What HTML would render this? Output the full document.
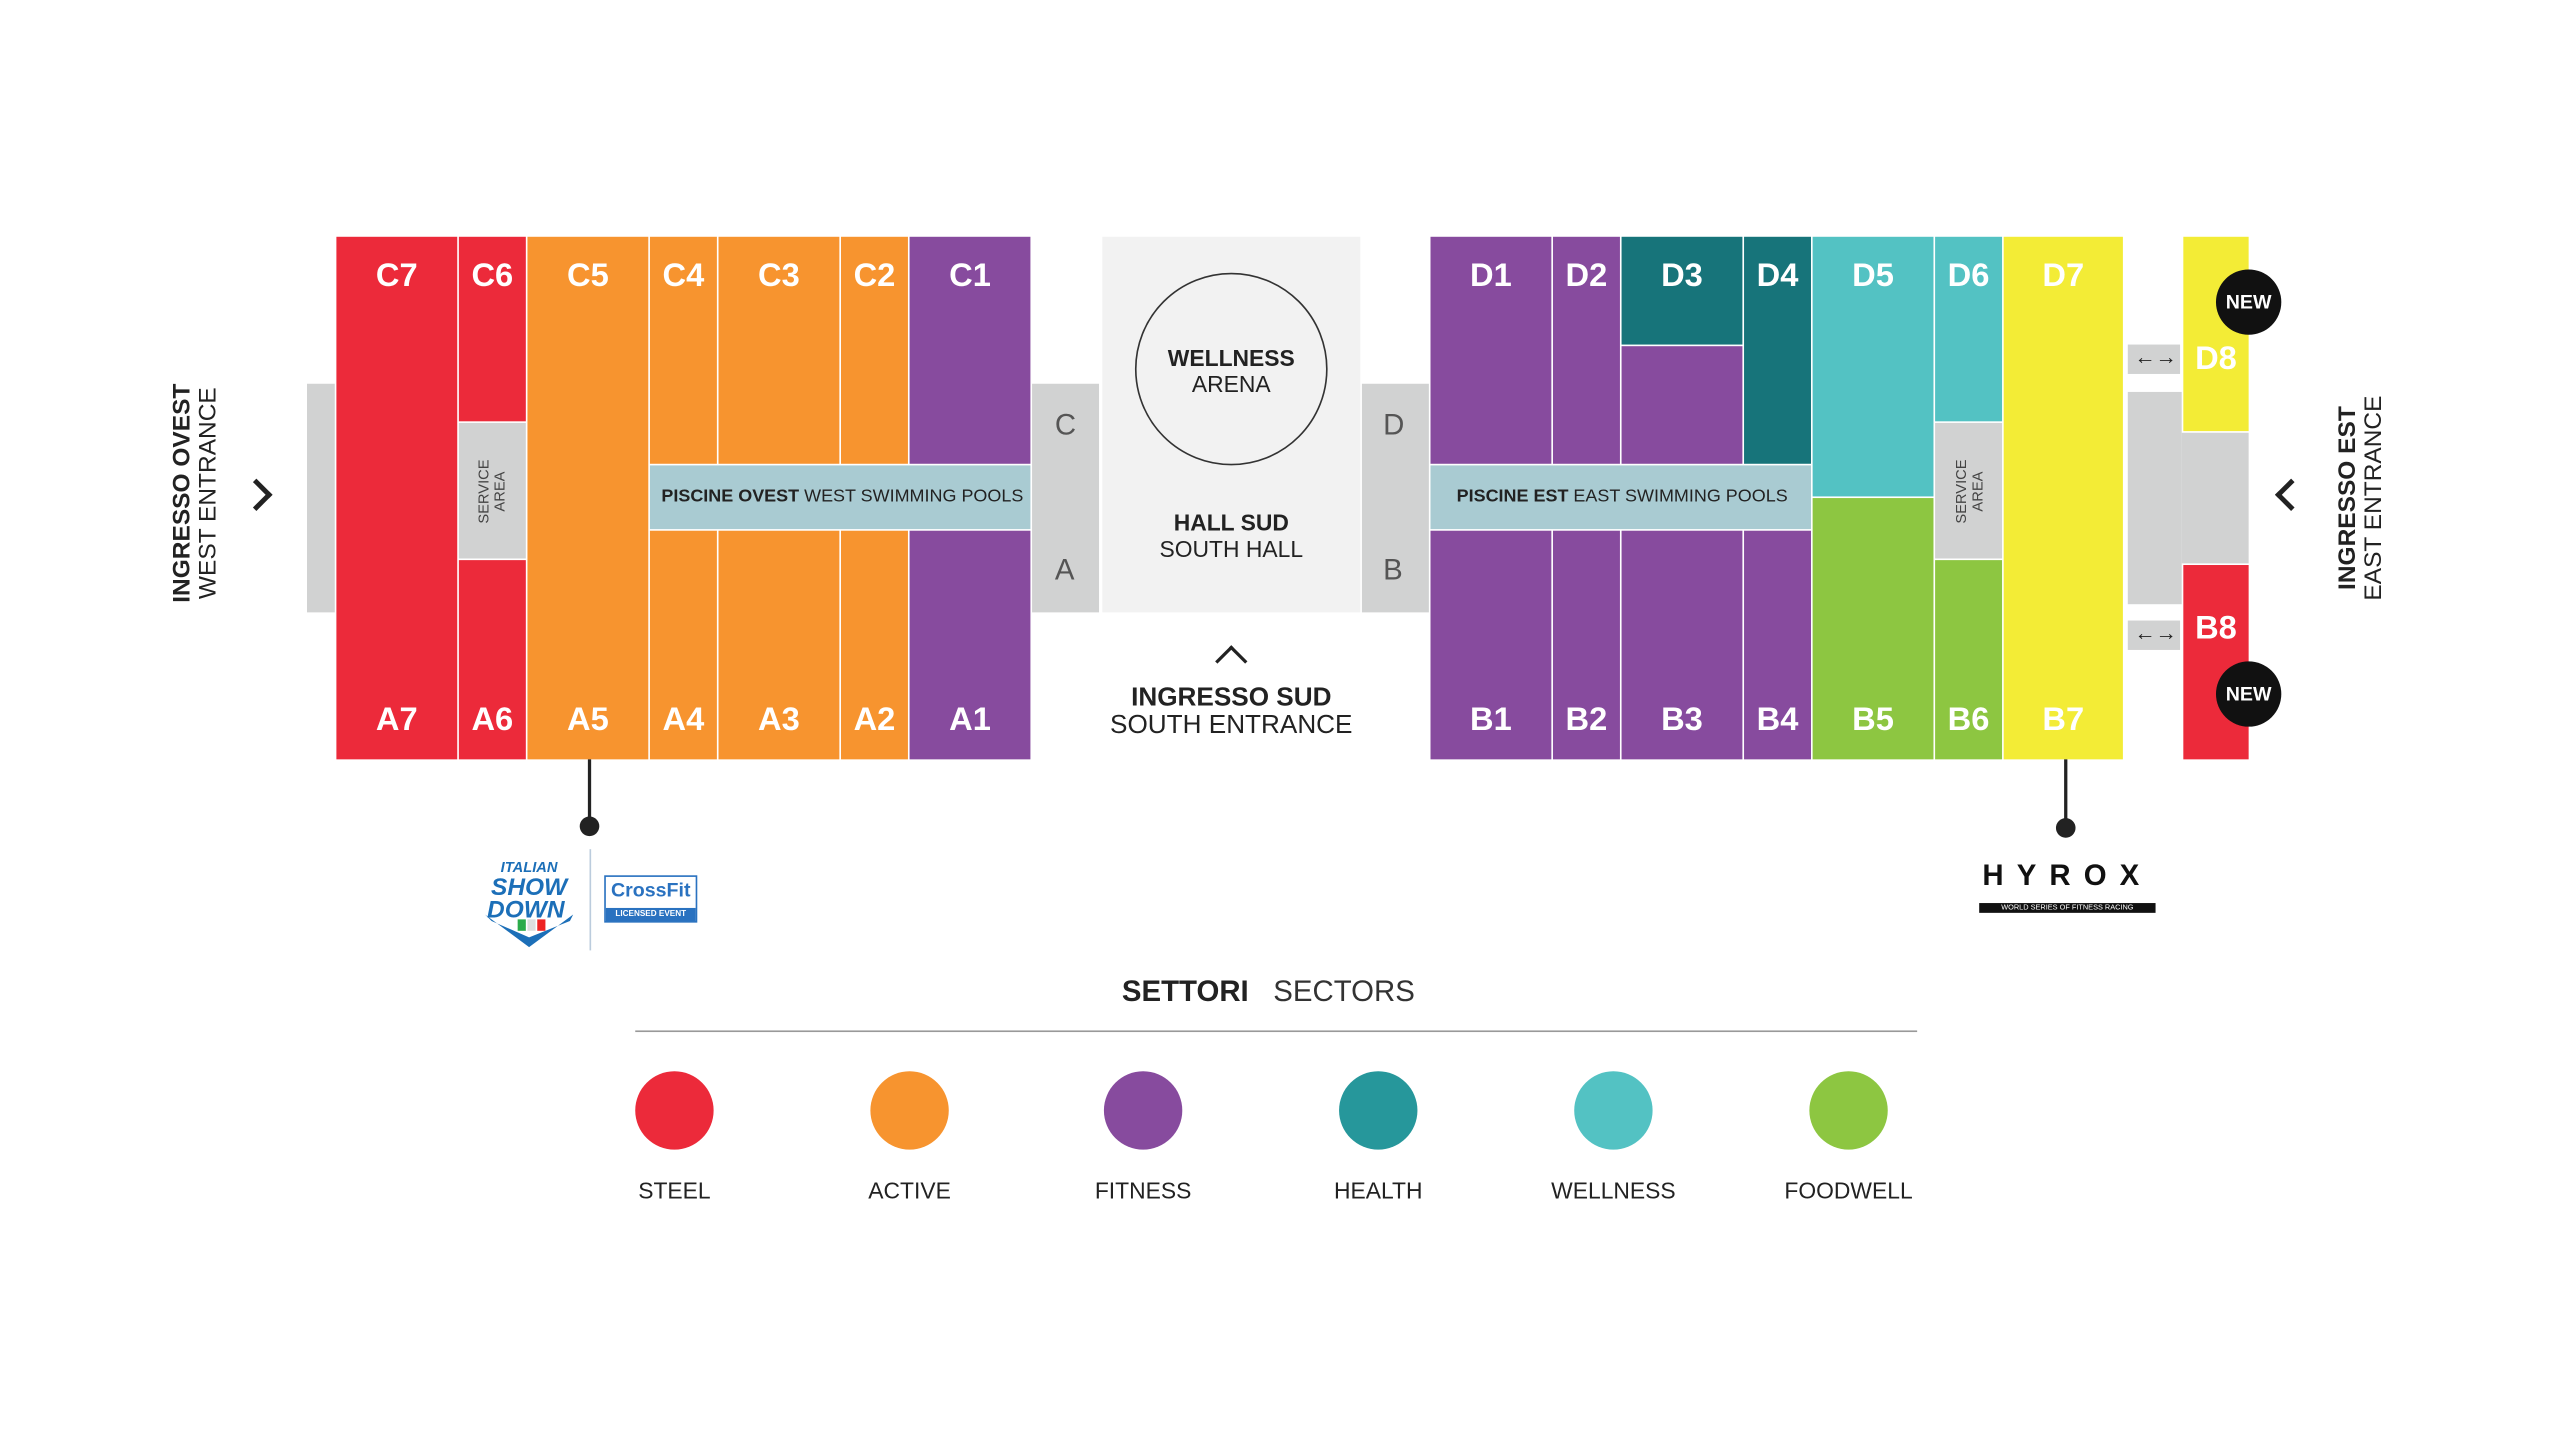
<!DOCTYPE html>
<html><head><meta charset="utf-8">
<style>
html,body{margin:0;padding:0;background:#fff;}
#root{position:absolute;left:0;top:0;width:1568px;height:882px;transform:scale(1.633);transform-origin:0 0;font-family:"Liberation Sans",sans-serif;overflow:hidden;}
.b{position:absolute;box-sizing:border-box;}
.l{position:absolute;color:#fff;font-weight:bold;font-size:20px;text-align:center;width:100%;left:0;}
.t{top:13px}.bt{bottom:12px}
.R{background:#ec2a3a}.O{background:#f7942f}.P{background:#874b9e}.T{background:#17747a}.C{background:#53c2c3}.G{background:#8dc641}.Y{background:#f3ec36}.g{background:#d1d2d2}.pool{background:#a9cbd2}
.txt{position:absolute;white-space:nowrap;color:#222;}
.vs{position:absolute;color:#444;font-size:9px;line-height:10px;text-align:center;transform:rotate(-90deg);white-space:nowrap;}
.dot{position:absolute;width:48px;height:48px;border-radius:50%;}
.lab{position:absolute;width:120px;text-align:center;font-size:14px;color:#222;top:721px;}
</style></head><body><div id="root">

<!-- west -->
<div class="b g" style="left:188px;top:235px;width:17px;height:140px"></div>
<div class="b R" style="left:206px;top:145px;width:74px;height:320px"><div class="l t">C7</div><div class="l bt">A7</div></div>
<div class="b R" style="left:281px;top:145px;width:41px;height:113px"><div class="l t">C6</div></div>
<div class="b g" style="left:281px;top:259px;width:41px;height:83px"></div>
<div class="vs" style="left:271px;top:291px;width:60px">SERVICE<br>AREA</div>
<div class="b R" style="left:281px;top:343px;width:41px;height:122px"><div class="l bt">A6</div></div>
<div class="b O" style="left:323px;top:145px;width:74px;height:320px"><div class="l t">C5</div><div class="l bt">A5</div></div>
<div class="b O" style="left:398px;top:145px;width:41px;height:139px"><div class="l t">C4</div></div>
<div class="b O" style="left:440px;top:145px;width:74px;height:139px"><div class="l t">C3</div></div>
<div class="b O" style="left:515px;top:145px;width:41px;height:139px"><div class="l t">C2</div></div>
<div class="b P" style="left:557px;top:145px;width:74px;height:139px"><div class="l t">C1</div></div>
<div class="b pool" style="left:398px;top:285px;width:233px;height:39px"></div>
<div class="txt" style="left:405px;top:298px;font-size:11px"><b>PISCINE OVEST</b> WEST SWIMMING POOLS</div>
<div class="b O" style="left:398px;top:325px;width:41px;height:140px"><div class="l bt">A4</div></div>
<div class="b O" style="left:440px;top:325px;width:74px;height:140px"><div class="l bt">A3</div></div>
<div class="b O" style="left:515px;top:325px;width:41px;height:140px"><div class="l bt">A2</div></div>
<div class="b P" style="left:557px;top:325px;width:74px;height:140px"><div class="l bt">A1</div></div>
<div class="b g" style="left:632px;top:235px;width:41px;height:140px"></div>
<div class="txt" style="left:646px;top:250px;font-size:18px;color:#555">C</div>
<div class="txt" style="left:646px;top:339px;font-size:18px;color:#555">A</div>

<!-- hall -->
<div class="b" style="left:675px;top:145px;width:158px;height:230px;background:#f2f2f2"></div>
<div class="b" style="left:695px;top:167px;width:118px;height:118px;border:1.5px solid #333;border-radius:50%"></div>
<div class="txt" style="left:675px;width:158px;text-align:center;top:211px;font-size:14px;line-height:16px"><b>WELLNESS</b><br>ARENA</div>
<div class="txt" style="left:675px;width:158px;text-align:center;top:312px;font-size:14px;line-height:16px"><b>HALL SUD</b><br>SOUTH HALL</div>
<div class="b" style="left:747px;top:398px;width:14px;height:14px;border-left:2.5px solid #222;border-top:2.5px solid #222;transform:rotate(45deg)"></div>
<div class="txt" style="left:654px;width:200px;text-align:center;top:419px;font-size:16px;line-height:17px"><b>INGRESSO SUD</b><br>SOUTH ENTRANCE</div>

<!-- east -->
<div class="b g" style="left:834px;top:235px;width:41px;height:140px"></div>
<div class="txt" style="left:847px;top:250px;font-size:18px;color:#555">D</div>
<div class="txt" style="left:847px;top:339px;font-size:18px;color:#555">B</div>
<div class="b P" style="left:876px;top:145px;width:74px;height:139px"><div class="l t">D1</div></div>
<div class="b P" style="left:951px;top:145px;width:41px;height:139px"><div class="l t">D2</div></div>
<div class="b T" style="left:993px;top:145px;width:74px;height:66px"><div class="l t">D3</div></div>
<div class="b P" style="left:993px;top:212px;width:74px;height:72px"></div>
<div class="b T" style="left:1068px;top:145px;width:41px;height:139px"><div class="l t">D4</div></div>
<div class="b pool" style="left:876px;top:285px;width:233px;height:39px"></div>
<div class="txt" style="left:892px;top:298px;font-size:11px"><b>PISCINE EST</b> EAST SWIMMING POOLS</div>
<div class="b P" style="left:876px;top:325px;width:74px;height:140px"><div class="l bt">B1</div></div>
<div class="b P" style="left:951px;top:325px;width:41px;height:140px"><div class="l bt">B2</div></div>
<div class="b P" style="left:993px;top:325px;width:74px;height:140px"><div class="l bt">B3</div></div>
<div class="b P" style="left:1068px;top:325px;width:41px;height:140px"><div class="l bt">B4</div></div>
<div class="b C" style="left:1110px;top:145px;width:74px;height:159px"><div class="l t">D5</div></div>
<div class="b G" style="left:1110px;top:305px;width:74px;height:160px"><div class="l bt">B5</div></div>
<div class="b C" style="left:1185px;top:145px;width:41px;height:113px"><div class="l t">D6</div></div>
<div class="b g" style="left:1185px;top:259px;width:41px;height:83px"></div>
<div class="vs" style="left:1176px;top:291px;width:60px">SERVICE<br>AREA</div>
<div class="b G" style="left:1185px;top:343px;width:41px;height:122px"><div class="l bt">B6</div></div>
<div class="b Y" style="left:1227px;top:145px;width:73px;height:320px"><div class="l t">D7</div><div class="l bt">B7</div></div>
<div class="b g" style="left:1303px;top:211px;width:32px;height:18px"></div>
<div class="b g" style="left:1303px;top:380px;width:32px;height:18px"></div>
<div class="txt" style="left:1307px;top:211px;font-size:13px">&larr;&rarr;</div>
<div class="txt" style="left:1307px;top:380px;font-size:13px">&larr;&rarr;</div>
<div class="b g" style="left:1303px;top:240px;width:33px;height:130px"></div>
<div class="b g" style="left:1336px;top:265px;width:41px;height:80px"></div>
<div class="b Y" style="left:1337px;top:145px;width:40px;height:119px"><div class="l" style="top:64px">D8</div></div>
<div class="b R" style="left:1337px;top:346px;width:40px;height:119px"><div class="l" style="top:28px">B8</div></div>
<div class="b" style="left:1357px;top:165px;width:40px;height:40px;border-radius:50%;background:#111;color:#fff;font-weight:bold;font-size:12px;line-height:40px;text-align:center">NEW</div>
<div class="b" style="left:1357px;top:405px;width:40px;height:40px;border-radius:50%;background:#111;color:#fff;font-weight:bold;font-size:12px;line-height:40px;text-align:center">NEW</div>

<!-- entrances -->
<div class="b" style="left:150px;top:296px;width:14px;height:14px;border-right:3px solid #222;border-top:3px solid #222;transform:rotate(45deg)"></div>
<div class="b" style="left:1396px;top:296px;width:14px;height:14px;border-left:3px solid #222;border-bottom:3px solid #222;transform:rotate(45deg)"></div>
<div class="txt" style="left:10px;top:286px;width:220px;text-align:center;font-size:15px;line-height:16px;transform:rotate(-90deg)"><b>INGRESSO OVEST</b><br>WEST ENTRANCE</div>
<div class="txt" style="left:1336px;top:289px;width:220px;text-align:center;font-size:15px;line-height:16px;transform:rotate(-90deg)"><b>INGRESSO EST</b><br>EAST ENTRANCE</div>

<!-- pins -->
<div class="b" style="left:360px;top:465px;width:2px;height:40px;background:#222"></div>
<div class="b" style="left:355px;top:500px;width:12px;height:12px;border-radius:50%;background:#222"></div>
<div class="b" style="left:1264px;top:465px;width:2px;height:40px;background:#222"></div>
<div class="b" style="left:1259px;top:501px;width:12px;height:12px;border-radius:50%;background:#222"></div>

<!-- logos -->
<svg style="position:absolute;left:293px;top:524px" width="62" height="58" viewBox="0 0 62 58">
<path d="M4 36L31 56L58 36L56 40L31 50L8 40Z" fill="#1c6fb8"/>
<text x="31" y="10" text-anchor="middle" font-family="Liberation Sans" font-weight="bold" font-style="italic" font-size="9" fill="#1c6fb8">ITALIAN</text>
<text x="31" y="24" text-anchor="middle" font-family="Liberation Sans" font-weight="bold" font-style="italic" font-size="15" fill="#1c6fb8">SHOW</text>
<text x="29" y="38" text-anchor="middle" font-family="Liberation Sans" font-weight="bold" font-style="italic" font-size="15" fill="#1c6fb8">DOWN</text>
<rect x="24" y="39" width="5" height="7" fill="#2bab4a"/><rect x="30" y="39" width="5" height="7" fill="#ddd"/><rect x="36" y="39" width="5" height="7" fill="#e22"/>
</svg>
<div class="b" style="left:361px;top:520px;width:1px;height:62px;background:#bcd"></div>
<div class="b" style="left:370px;top:536px;width:57px;height:29px;border:1px solid #2a72c0;background:#fff"></div>
<div class="txt" style="left:370px;top:538px;width:57px;text-align:center;font-size:12px;font-weight:bold;color:#2a72c0">CrossFit</div>
<div class="b" style="left:371px;top:556px;width:55px;height:8px;background:#2a72c0;color:#fff;font-size:5px;line-height:8px;text-align:center;font-weight:bold">LICENSED EVENT</div>
<div class="txt" style="left:1206px;top:526px;width:120px;text-align:center;font-size:18px;letter-spacing:8px;font-weight:bold;color:#111">HYROX</div>
<div class="b" style="left:1212px;top:553px;width:108px;height:6px;background:#111;color:#fff;font-size:4.5px;line-height:6px;text-align:center">WORLD SERIES OF FITNESS RACING</div>

<!-- legend -->
<div class="txt" style="left:687px;top:597px;font-size:18px"><b>SETTORI</b>&nbsp;&nbsp;&nbsp;<span style="color:#333">SECTORS</span></div>
<div class="b" style="left:389px;top:631px;width:785px;height:1px;background:#999"></div>
<div class="dot" style="left:389px;top:656px;background:#ec2a3a"></div>
<div class="dot" style="left:533px;top:656px;background:#f7942f"></div>
<div class="dot" style="left:676px;top:656px;background:#874b9e"></div>
<div class="dot" style="left:820px;top:656px;background:#26979b"></div>
<div class="dot" style="left:964px;top:656px;background:#53c2c3"></div>
<div class="dot" style="left:1108px;top:656px;background:#8dc641"></div>
<div class="lab" style="left:353px">STEEL</div>
<div class="lab" style="left:497px">ACTIVE</div>
<div class="lab" style="left:640px">FITNESS</div>
<div class="lab" style="left:784px">HEALTH</div>
<div class="lab" style="left:928px">WELLNESS</div>
<div class="lab" style="left:1072px">FOODWELL</div>
</div></body></html>
